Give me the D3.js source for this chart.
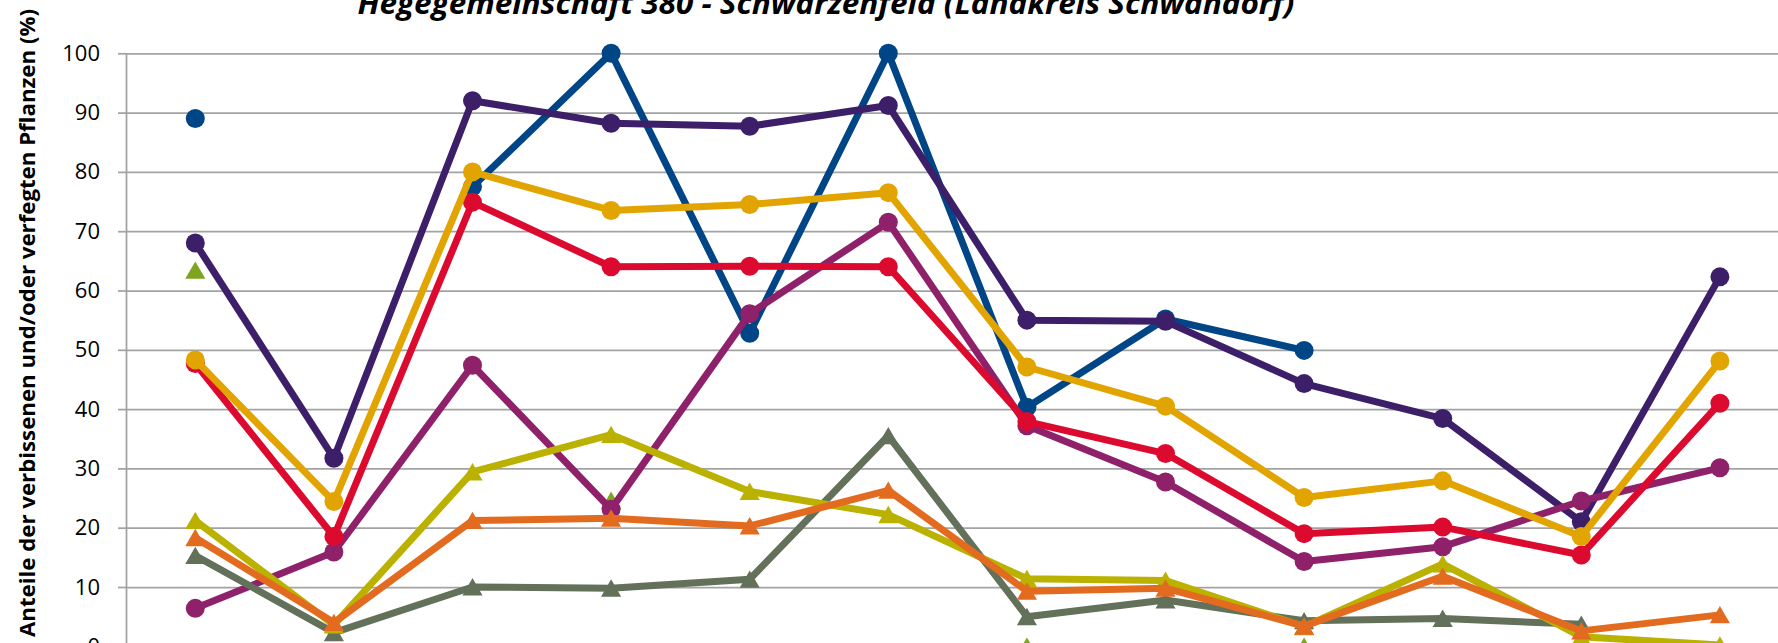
<!DOCTYPE html>
<html>
<head>
<meta charset="utf-8">
<script src="https://cdn.jsdelivr.net/npm/d3@7"></script>
<style>
  body { margin: 0; background: #fff; }
  svg { display: block; font-family: "Open Sans", "Liberation Sans", sans-serif; }
</style>
</head>
<body>
<div class="d3container"></div>
<script>
// categories (x labels lie below the visible crop)
const categories = ["1", "2", "3", "4", "5", "6", "7", "8", "9", "10", "11", "12"]
const yTicks = [0, 10, 20, 30, 40, 50, 60, 70, 80, 90, 100]

// series values (%), null = no value
const blue    = [89, null, 77.5, 100, 52.8, 100, 40.3, 55.2, 49.9, null, null, null]
const purple  = [68, 31.7, 92, 88.2, 87.7, 91.2, 55, 54.8, 44.3, 38.4, 21, 62.3]
const magenta = [6.4, 15.9, 47.4, 23.1, 56.1, 71.5, 37.2, 27.7, 14.3, 16.8, 24.5, 30.1]
const red     = [47.7, 18.5, 74.9, 64, 64.1, 64, 37.9, 32.5, 19, 20.1, 15.4, 41]
const gold    = [48.3, 24.4, 80, 73.5, 74.5, 76.5, 47.1, 40.5, 25.1, 27.9, 18.5, 48.1]
const green   = [63.4, null, null, 24.6, null, null, 0, null, 0, null, null, null]
const gray    = [15.3, 2.3, 10, 9.8, 11.3, 35.5, 5.0, 7.8, 4.3, 4.7, 3.7, null]
const olive   = [21.2, 3.6, 29.4, 35.7, 26.1, 22.2, 11.4, 11.1, 3.3, 13.9, 1.6, 0.2]
const orange  = [18.3, 4.0, 21.2, 21.6, 20.3, 26.3, 9.3, 9.8, 3.4, 11.8, 2.6, 5.3]

// drawing order = z order
const series = [
  { values: green,   color: "#7fa41e", shape: "triangle" },
  { values: blue,    color: "#004586", shape: "circle" },
  { values: purple,  color: "#3c1f68", shape: "circle" },
  { values: magenta, color: "#8e2169", shape: "circle" },
  { values: red,     color: "#dc0a2f", shape: "circle" },
  { values: gold,    color: "#e2a400", shape: "circle" },
  { values: gray,    color: "#63705a", shape: "triangle" },
  { values: olive,   color: "#bab100", shape: "triangle" },
  { values: orange,  color: "#e36b1f", shape: "triangle" }
]

const width = 1778
const height = 643
const plotLeft = 126
const plotTop = 53.3
const plotBottom = 646.3
const bandW = 138.6

const svg = d3.select(".d3container")
  .append("svg")
  .attr("width", width)
  .attr("height", height)

const x = d3.scalePoint()
  .domain(categories)
  .range([plotLeft + bandW / 2, plotLeft + bandW * categories.length - bandW / 2])

const y = d3.scaleLinear()
  .domain([0, 100])
  .range([plotBottom, plotTop])

// gridlines
svg.append("g")
  .attr("transform", `translate(${plotLeft},0)`)
  .call(d3.axisLeft(y).tickValues(yTicks).tickSize(-(width - plotLeft)).tickFormat(""))
  .call(g => g.select(".domain").remove())
  .selectAll("line")
    .attr("stroke", "#a3a3a3")
    .attr("stroke-width", 1.75)

// value axis with outer ticks and labels
svg.append("g")
  .attr("transform", `translate(${plotLeft},0)`)
  .call(d3.axisLeft(y).tickValues(yTicks).tickSize(8).tickSizeOuter(0).tickPadding(18))
  .call(g => g.select(".domain").attr("stroke", "#a3a3a3").attr("stroke-width", 1.75))
  .call(g => g.selectAll("line").attr("stroke", "#a3a3a3").attr("stroke-width", 1.75))
  .call(g => g.selectAll("text")
    .attr("fill", "#000")
    .style("font-size", "22px")
    .style("font-family", "'Open Sans', sans-serif"))

const line = d3.line()
  .defined(d => d.v != null)
  .x(d => x(d.c))
  .y(d => y(d.v))

const tri = d3.symbol().type(d3.symbolTriangle).size(175)

series.forEach(s => {
  const pts = s.values.map((v, i) => ({ c: categories[i], v: v }))
  svg.append("path")
    .datum(pts)
    .attr("d", line)
    .attr("fill", "none")
    .attr("stroke", s.color)
    .attr("stroke-width", 7)
    .attr("stroke-linejoin", "round")

  const marks = svg.append("g")
    .selectAll("path")
    .data(pts.filter(d => d.v != null))
    .enter()
    .append("path")
    .attr("fill", s.color)

  if (s.shape === "circle") {
    marks.attr("d", d3.symbol().type(d3.symbolCircle).size(Math.PI * 9.5 * 9.5))
      .attr("transform", d => `translate(${x(d.c)},${y(d.v)})`)
  } else {
    // shift so the triangle's box centre sits on the value
    marks.attr("d", tri)
      .attr("transform", d => `translate(${x(d.c)},${y(d.v) + 2.7})`)
  }
})

// title (top is cropped in the original)
svg.append("text")
  .attr("x", 826)
  .attr("y", 14)
  .attr("text-anchor", "middle")
  .attr("textLength", 937)
  .attr("lengthAdjust", "spacingAndGlyphs")
  .style("font-size", "31px")
  .style("font-weight", "bold")
  .style("font-style", "italic")
  .text("Hegegemeinschaft 380 - Schwarzenfeld (Landkreis Schwandorf)")

// y axis title
svg.append("text")
  .attr("transform", "translate(35,323) rotate(-90)")
  .attr("text-anchor", "middle")
  .attr("textLength", 628)
  .attr("lengthAdjust", "spacingAndGlyphs")
  .style("font-size", "21px")
  .style("font-weight", "bold")
  .text("Anteile der verbissenen und/oder verfegten Pflanzen (%)")
</script>
</body>
</html>
